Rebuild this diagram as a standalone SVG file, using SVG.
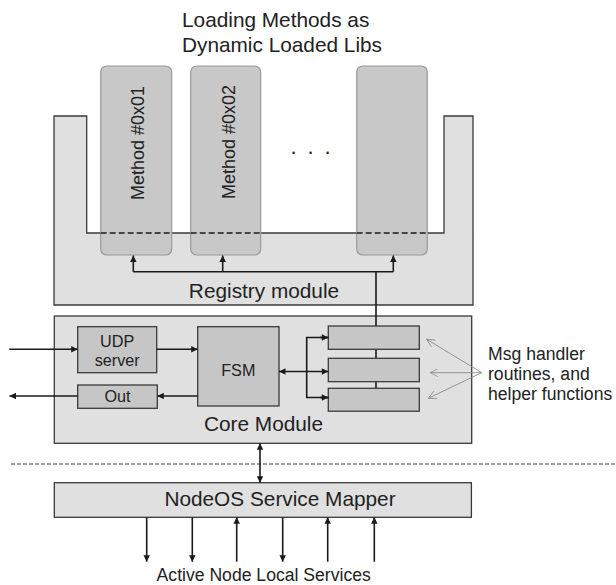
<svg xmlns="http://www.w3.org/2000/svg" width="616" height="585" viewBox="0 0 616 585">
<style>
text{font-family:"Liberation Sans",Arial,sans-serif;fill:#222}
.big{font-size:20.8px}
.mid{font-size:17.6px}
.small{font-size:16.2px}
.meth{font-size:18px}
.mod{fill:#e0e0e0;stroke:#3a3a3a;stroke-width:1.3}
.inner{fill:#c6c6c6;stroke:#3a3a3a;stroke-width:1.3}
.mbox{fill:#c8c8c8;stroke:#9a9a9a;stroke-width:1.2}
.ln{fill:none;stroke:#1a1a1a;stroke-width:1.6}
.gray{fill:none;stroke:#8a8a8a;stroke-width:0.9}
.dash{fill:none;stroke:#1a1a1a;stroke-width:1.3;stroke-dasharray:6 3}
.sep{fill:none;stroke:#444;stroke-width:1;stroke-dasharray:4 2}
</style>
<defs>
<marker id="ah" viewBox="0 0 10 10" refX="10" refY="5" markerWidth="9" markerHeight="6.5" markerUnits="userSpaceOnUse" orient="auto-start-reverse">
<path d="M0,0 L10,5 L0,10 z" fill="#1a1a1a"/>
</marker>
<marker id="oh" viewBox="0 0 10 10" refX="10" refY="5" markerWidth="11" markerHeight="8" markerUnits="userSpaceOnUse" orient="auto">
<path d="M0,0 L10,5 L0,10" fill="none" stroke="#8a8a8a" stroke-width="1"/>
</marker>
</defs>

<g id="title">
<text class="big" x="182" y="27">Loading Methods as</text>
<text class="big" x="182" y="52">Dynamic Loaded Libs</text>
</g>

<g id="registry">
<path class="mod" d="M54,116 L54,305 L473,305 L473,116 L444,116 L444,233 L86.7,233 L86.7,116 Z"/>
<text class="big" x="264" y="298.3" text-anchor="middle">Registry module</text>
</g>

<g id="method1">
<rect class="mbox" x="100.7" y="66" width="71" height="189" rx="6"/>
<line class="dash" x1="100.7" y1="233" x2="171.7" y2="233"/>
<text class="meth" transform="translate(144.3,143) rotate(-90)" text-anchor="middle">Method #0x01</text>
</g>
<g id="method2">
<rect class="mbox" x="190.7" y="66" width="70" height="189" rx="6"/>
<line class="dash" x1="190.7" y1="233" x2="260.7" y2="233"/>
<text class="meth" transform="translate(235,142) rotate(-90)" text-anchor="middle">Method #0x02</text>
</g>
<g id="dots">
<text x="290.5 307.5 324.5" y="154" style="font-size:22px">...</text>
</g>
<g id="method3">
<rect class="mbox" x="356.7" y="66" width="70.6" height="189" rx="6"/>
<line class="dash" x1="356.7" y1="233" x2="427.3" y2="233"/>
</g>

<g id="core">
<rect class="mod" x="54.3" y="316" width="417.4" height="127.3"/>
<text class="big" x="263.5" y="430.7" text-anchor="middle">Core Module</text>
</g>

<g id="connectors-behind">
<line class="ln" x1="376" y1="271.7" x2="376" y2="395"/>
</g>

<g id="udp">
<rect class="inner" x="77.7" y="326.7" width="79" height="46"/>
<text class="small" x="117.2" y="346.7" text-anchor="middle">UDP</text>
<text class="small" x="117.2" y="366" text-anchor="middle">server</text>
</g>
<g id="out">
<rect class="inner" x="77.7" y="385" width="79.6" height="23.3"/>
<text class="small" x="117.5" y="401.7" text-anchor="middle">Out</text>
</g>
<g id="fsm">
<rect class="inner" x="197.7" y="326.7" width="81.3" height="79.3"/>
<text class="small" x="238.3" y="376" text-anchor="middle">FSM</text>
</g>
<g id="handler1"><rect class="inner" x="328.3" y="326" width="91" height="23.3"/></g>
<g id="handler2"><rect class="inner" x="328.3" y="358.3" width="91" height="23.4"/></g>
<g id="handler3"><rect class="inner" x="328.3" y="388.3" width="91" height="22.9"/></g>

<g id="mapper">
<rect class="mod" x="54.3" y="482.7" width="417.1" height="34.6"/>
<text class="big" x="280" y="506" text-anchor="middle">NodeOS Service Mapper</text>
</g>

<g id="sep-line">
<line class="sep" x1="11" y1="464" x2="616" y2="464"/>
</g>

<g id="annotations">
<text class="mid" x="488" y="360">Msg handler</text>
<text class="mid" x="488" y="380">routines, and</text>
<text class="mid" x="488" y="400">helper functions</text>
<text class="mid" x="263.7" y="580.7" text-anchor="middle">Active Node Local Services</text>
</g>

<g id="connectors">
<polyline class="ln" points="133.3,271.7 393.3,271.7"/>
<line class="ln" x1="133.3" y1="271.7" x2="133.3" y2="255.5" marker-end="url(#ah)"/>
<line class="ln" x1="222.7" y1="271.7" x2="222.7" y2="255.5" marker-end="url(#ah)"/>
<line class="ln" x1="393.3" y1="271.7" x2="393.3" y2="255.5" marker-end="url(#ah)"/>

<line class="ln" x1="9.3" y1="349.3" x2="77.7" y2="349.3" marker-end="url(#ah)"/>
<line class="ln" x1="156.7" y1="349.3" x2="197.7" y2="349.3" marker-end="url(#ah)"/>
<line class="ln" x1="197.7" y1="396" x2="157.3" y2="396" marker-end="url(#ah)"/>
<line class="ln" x1="77.7" y1="396" x2="9.5" y2="396" marker-end="url(#ah)"/>

<line class="ln" x1="279" y1="371.5" x2="328.3" y2="371.5" marker-start="url(#ah)" marker-end="url(#ah)"/>
<polyline class="ln" points="328.3,337.5 306.7,337.5 306.7,397.5 328.3,397.5"/>
<line class="ln" x1="320" y1="337.5" x2="328.3" y2="337.5" marker-end="url(#ah)"/>
<line class="ln" x1="320" y1="397.5" x2="328.3" y2="397.5" marker-end="url(#ah)"/>

<line class="ln" x1="260" y1="443.3" x2="260" y2="482.7" marker-start="url(#ah)" marker-end="url(#ah)"/>

<line class="ln" x1="146.7" y1="517.3" x2="146.7" y2="561.7" marker-end="url(#ah)"/>
<line class="ln" x1="192.3" y1="517.3" x2="192.3" y2="561.7" marker-end="url(#ah)"/>
<line class="ln" x1="236.7" y1="561.7" x2="236.7" y2="517.3" marker-end="url(#ah)"/>
<line class="ln" x1="282.7" y1="517.3" x2="282.7" y2="561.7" marker-end="url(#ah)"/>
<line class="ln" x1="327.7" y1="561.7" x2="327.7" y2="517.3" marker-end="url(#ah)"/>
<line class="ln" x1="374.3" y1="561.7" x2="374.3" y2="517.3" marker-end="url(#ah)"/>

<line class="gray" x1="481.7" y1="372.7" x2="426.7" y2="339.3" marker-end="url(#oh)"/>
<line class="gray" x1="481.7" y1="372.7" x2="430" y2="372.7" marker-end="url(#oh)"/>
<line class="gray" x1="481.7" y1="372.7" x2="428.3" y2="398.3" marker-end="url(#oh)"/>
</g>
</svg>
